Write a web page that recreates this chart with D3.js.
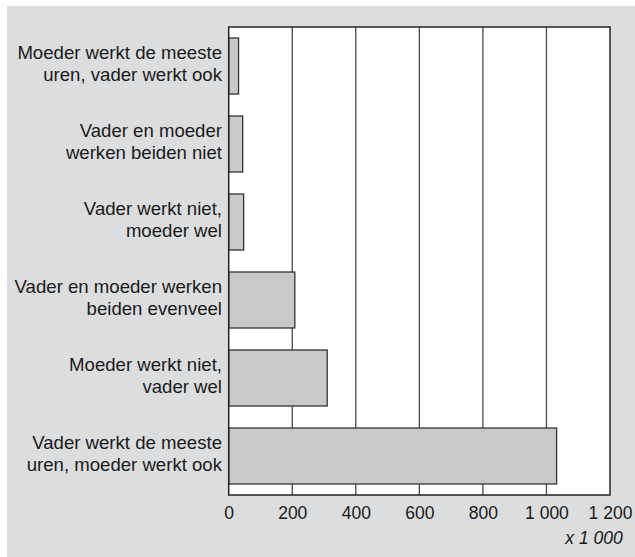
<!DOCTYPE html>
<html>
<head>
<meta charset="utf-8">
<script src="https://cdn.jsdelivr.net/npm/d3@7"></script>
<style>
  body { margin: 0; background: #fff; }
  svg { display: block; font-family: "Liberation Sans", Arial, sans-serif; }
</style>
</head>
<body>
<svg id="chart" width="635" height="557"></svg>
<script>
// categories top to bottom, each label split in two lines
const categories = [
  ['Moeder werkt de meeste', 'uren, vader werkt ook'],
  ['Vader en moeder', 'werken beiden niet'],
  ['Vader werkt niet,', 'moeder wel'],
  ['Vader en moeder werken', 'beiden evenveel'],
  ['Moeder werkt niet,', 'vader wel'],
  ['Vader werkt de meeste', 'uren, moeder werkt ook']
]
const values = [31, 44, 47, 208, 310, 1032]
const ticks = [0, 200, 400, 600, 800, 1000, 1200]
const unitLabel = 'x 1 000'

const svg = d3.select('#chart')
const W = 635, H = 557
const plotL = 228.7, plotR = 610, plotT = 27, plotB = 495

// grey panel
svg.append('rect')
  .attr('x', 7).attr('y', 6)
  .attr('width', W - 7).attr('height', H - 6)
  .style('fill', '#dcdddf')

const x = d3.scaleLinear().domain([0, 1200]).range([plotL, plotR])
const y = d3.scaleBand()
  .domain(d3.range(categories.length))
  .range([plotT, plotB])
  .paddingInner(22 / 78)
  .paddingOuter(11 / 78)

// plot area
svg.append('rect')
  .attr('x', plotL).attr('y', plotT)
  .attr('width', plotR - plotL).attr('height', plotB - plotT)
  .style('fill', '#fff')

// gridlines
svg.append('g').selectAll('line')
  .data(ticks.slice(1, -1))
  .enter().append('line')
    .attr('x1', d => x(d)).attr('x2', d => x(d))
    .attr('y1', plotT).attr('y2', plotB)
    .style('stroke', '#4a4a4a')
    .style('stroke-width', 1.3)

// bars
svg.append('g').selectAll('rect')
  .data(values)
  .enter().append('rect')
    .attr('x', x(0))
    .attr('y', (d, i) => y(i))
    .attr('width', d => x(d) - x(0))
    .attr('height', y.bandwidth())
    .style('fill', '#c8c9ca')
    .style('stroke', '#333')
    .style('stroke-width', 1.3)

// frame
svg.append('rect')
  .attr('x', plotL).attr('y', plotT)
  .attr('width', plotR - plotL).attr('height', plotB - plotT)
  .style('fill', 'none')
  .style('stroke', '#222')
  .style('stroke-width', 1.5)

// category labels
const lab = svg.append('g').selectAll('text')
  .data(categories)
  .enter().append('text')
    .attr('text-anchor', 'end')
    .style('font-size', '18.6px')
    .style('fill', '#1a1a1a')
lab.each(function(d, i) {
  const cy = y(i) + y.bandwidth() / 2
  d3.select(this).selectAll('tspan')
    .data(d)
    .enter().append('tspan')
      .attr('x', 222)
      .attr('y', (t, j) => cy + 4 + (j - 0.5) * 22)
      .text(t => t)
})

// x axis
const axis = d3.axisBottom(x)
  .tickValues(ticks)
  .tickSize(0)
  .tickPadding(12)
  .tickFormat(d => d3.format(',')(d).replace(',', ' '))
const ax = svg.append('g')
  .attr('transform', 'translate(0,' + plotB + ')')
  .call(axis)
ax.select('.domain').remove()
ax.selectAll('text')
  .style('font-size', '17.5px')
  .style('font-family', '"Liberation Sans", Arial, sans-serif')
  .style('fill', '#1a1a1a')

svg.append('text')
  .attr('x', 622.7).attr('y', 544)
  .attr('text-anchor', 'end')
  .style('font-size', '17.5px')
  .style('font-style', 'italic')
  .style('fill', '#1a1a1a')
  .text(unitLabel)
</script>
</body>
</html>
